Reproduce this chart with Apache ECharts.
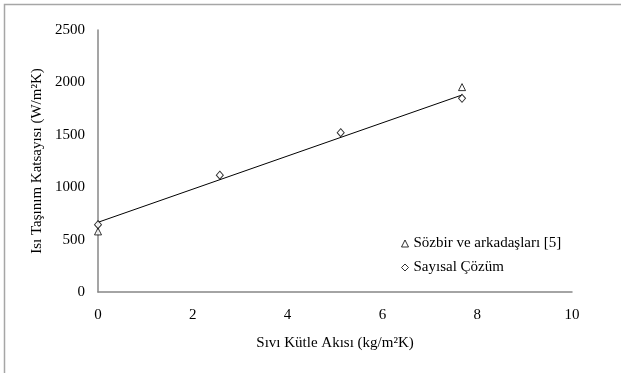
<!DOCTYPE html>
<html>
<head>
<meta charset="utf-8">
<script src="https://cdn.jsdelivr.net/npm/echarts@6/dist/echarts.min.js"></script>
<style>
  html, body { margin: 0; padding: 0; background: #fff; }
  #chart { width: 621px; height: 373px; }
</style>
</head>
<body>
<div id="chart"></div>
<script>
// Measured heat transfer coefficient from the literature
const sozbirX = [0, 7.68];
const sozbirY = [578, 1955];

// Numerical solution results
const sayisalX = [0, 2.57, 5.12, 7.68];
const sayisalY = [642, 1115, 1520, 1848];

// Linear trend line end points
const trendX = [0, 7.68];
const trendY = [665, 1880];

const xTicks = [0, 2, 4, 6, 8, 10];
const yTicks = [0, 500, 1000, 1500, 2000, 2500];

const serif = '"Liberation Serif", "Times New Roman", serif';
const pairs = (xs, ys) => xs.map((x, i) => [x, ys[i]]);

const chart = echarts.init(document.getElementById('chart'), null, { renderer: 'canvas' });
chart.setOption({
  animation: false,
  backgroundColor: '#fff',
  graphic: [{
    type: 'rect',
    shape: { x: 4.5, y: 4.5, width: 640, height: 400 },
    style: { fill: 'none', stroke: '#a6a6a6', lineWidth: 1.5 },
    silent: true
  }],
  grid: { left: 98, right: 49, top: 30, bottom: 81 },
  xAxis: {
    type: 'value',
    min: xTicks[0],
    max: xTicks[xTicks.length - 1],
    interval: xTicks[1] - xTicks[0],
    name: 'Sıvı Kütle Akısı (kg/m²K)',
    nameLocation: 'middle',
    nameGap: 44,
    nameTextStyle: { fontFamily: serif, fontSize: 15, color: '#000' },
    axisLine: { show: true, onZero: false, lineStyle: { color: '#878787', width: 1.5 } },
    axisTick: { show: false },
    splitLine: { show: false },
    axisLabel: { fontFamily: serif, fontSize: 15, color: '#000', margin: 16, formatter: v => String(v) }
  },
  yAxis: {
    type: 'value',
    min: yTicks[0],
    max: yTicks[yTicks.length - 1],
    interval: yTicks[1] - yTicks[0],
    name: 'Isı Taşınım Katsayısı (W/m²K)',
    nameLocation: 'middle',
    nameGap: 52,
    nameTextStyle: { fontFamily: serif, fontSize: 15, color: '#000' },
    axisLine: { show: true, lineStyle: { color: '#878787', width: 1.5 } },
    axisTick: { show: false },
    splitLine: { show: false },
    axisLabel: { fontFamily: serif, fontSize: 15, color: '#000', margin: 13, formatter: v => String(v) }
  },
  legend: {
    orient: 'vertical',
    left: 396,
    top: 231,
    itemWidth: 7,
    itemHeight: 7,
    itemGap: 9,
    textStyle: { fontFamily: serif, fontSize: 15, color: '#000' },
    data: [
      { name: 'Sözbir ve arkadaşları [5]', icon: 'triangle', itemStyle: { color: '#fff', borderColor: '#000', borderWidth: 1 } },
      { name: 'Sayısal Çözüm', icon: 'diamond', itemStyle: { color: '#fff', borderColor: '#000', borderWidth: 1 } }
    ]
  },
  series: [
    {
      name: 'trend',
      type: 'line',
      data: pairs(trendX, trendY),
      symbol: 'none',
      lineStyle: { color: '#000', width: 1 },
      z: 1
    },
    {
      name: 'Sözbir ve arkadaşları [5]',
      type: 'scatter',
      data: pairs(sozbirX, sozbirY),
      symbol: 'triangle',
      symbolSize: 7,
      itemStyle: { color: '#fff', borderColor: '#000', borderWidth: 1 },
      z: 3
    },
    {
      name: 'Sayısal Çözüm',
      type: 'scatter',
      data: pairs(sayisalX, sayisalY),
      symbol: 'diamond',
      symbolSize: [7, 8],
      itemStyle: { color: '#fff', borderColor: '#000', borderWidth: 1 },
      z: 3
    }
  ]
});
</script>
</body>
</html>
